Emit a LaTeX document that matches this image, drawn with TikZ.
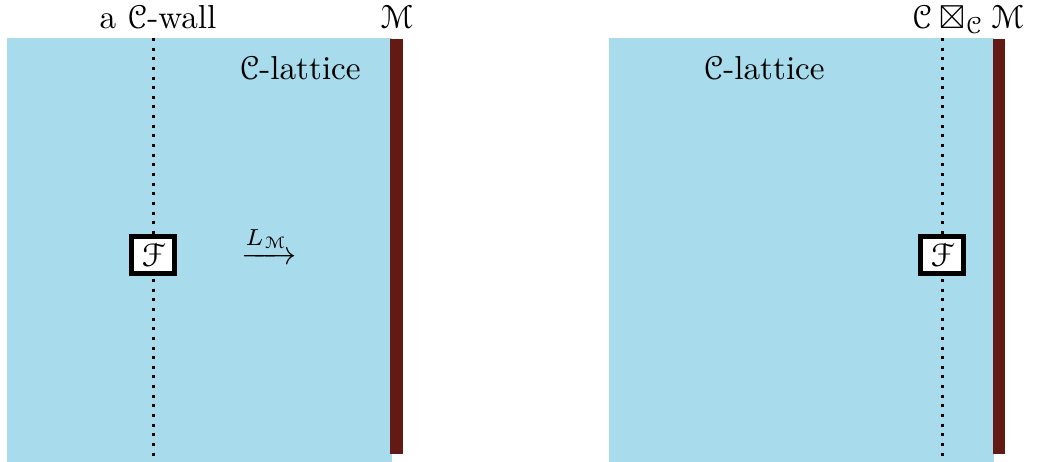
\documentclass[tikz,border=0pt]{standalone}
\usepackage{amsmath,amssymb}
\usepackage[mathcal]{euscript}

\begin{document}
\begin{tikzpicture}[>=latex,line join=bevel]
\useasboundingbox (0bp,0bp) rectangle (311.1bp,138.6bp);
%%
\definecolor{latticecol}{rgb}{0.66,0.86,0.92};
\definecolor{modulecol}{rgb}{0.39,0.10,0.08};
\tikzset{fbox/.style={draw=black,fill=white,line width=1.5bp,line join=miter,rectangle,inner sep=0pt,minimum width=12.9bp,minimum height=11.1bp},
  wall/.style={dotted,line width=0.9bp}}
%% left panel
\begin{scope}
  \fill [latticecol] (2.1bp,0bp) rectangle (117.6bp,127.2bp);
  \fill [modulecol] (117.0bp,2.4bp) rectangle (120.9bp,126.9bp);
  \coordinate (wallTopL) at (45.9bp,127.2bp);
  \coordinate (wallBotL) at (45.9bp,0bp);
  \draw [wall] (wallTopL) -- (wallBotL);
  \node (FL) at (45.9bp,62.1bp) [fbox] {$\mathcal{F}$};
  \node (arrLM) at (80.7bp,65.0bp) {$\xrightarrow{\!L_{\mathcal{M}}\!}$};
  \node (wallLabel) at (47.4bp,130.0bp) [anchor=base] {a $\mathcal{C}$-wall};
  \node (ML) at (119.1bp,130.0bp) [anchor=base] {$\mathcal{M}$};
  \node (latticeL) at (90.0bp,114.6bp) [anchor=base] {$\mathcal{C}$-lattice};
\end{scope}
%% right panel
\begin{scope}
  \fill [latticecol] (182.7bp,0bp) rectangle (298.2bp,127.2bp);
  \fill [modulecol] (297.9bp,2.4bp) rectangle (301.5bp,126.9bp);
  \coordinate (wallTopR) at (282.6bp,127.2bp);
  \coordinate (wallBotR) at (282.6bp,0bp);
  \draw [wall] (wallTopR) -- (wallBotR);
  \node (FR) at (282.6bp,62.1bp) [fbox] {$\mathcal{F}$};
  \node (tensorLabel) at (290.4bp,130.0bp) [anchor=base] {$\mathcal{C}\boxtimes_{\mathcal{C}}\mathcal{M}$};
  \node (latticeR) at (229.2bp,114.6bp) [anchor=base] {$\mathcal{C}$-lattice};
\end{scope}
%
\end{tikzpicture}
\end{document}
